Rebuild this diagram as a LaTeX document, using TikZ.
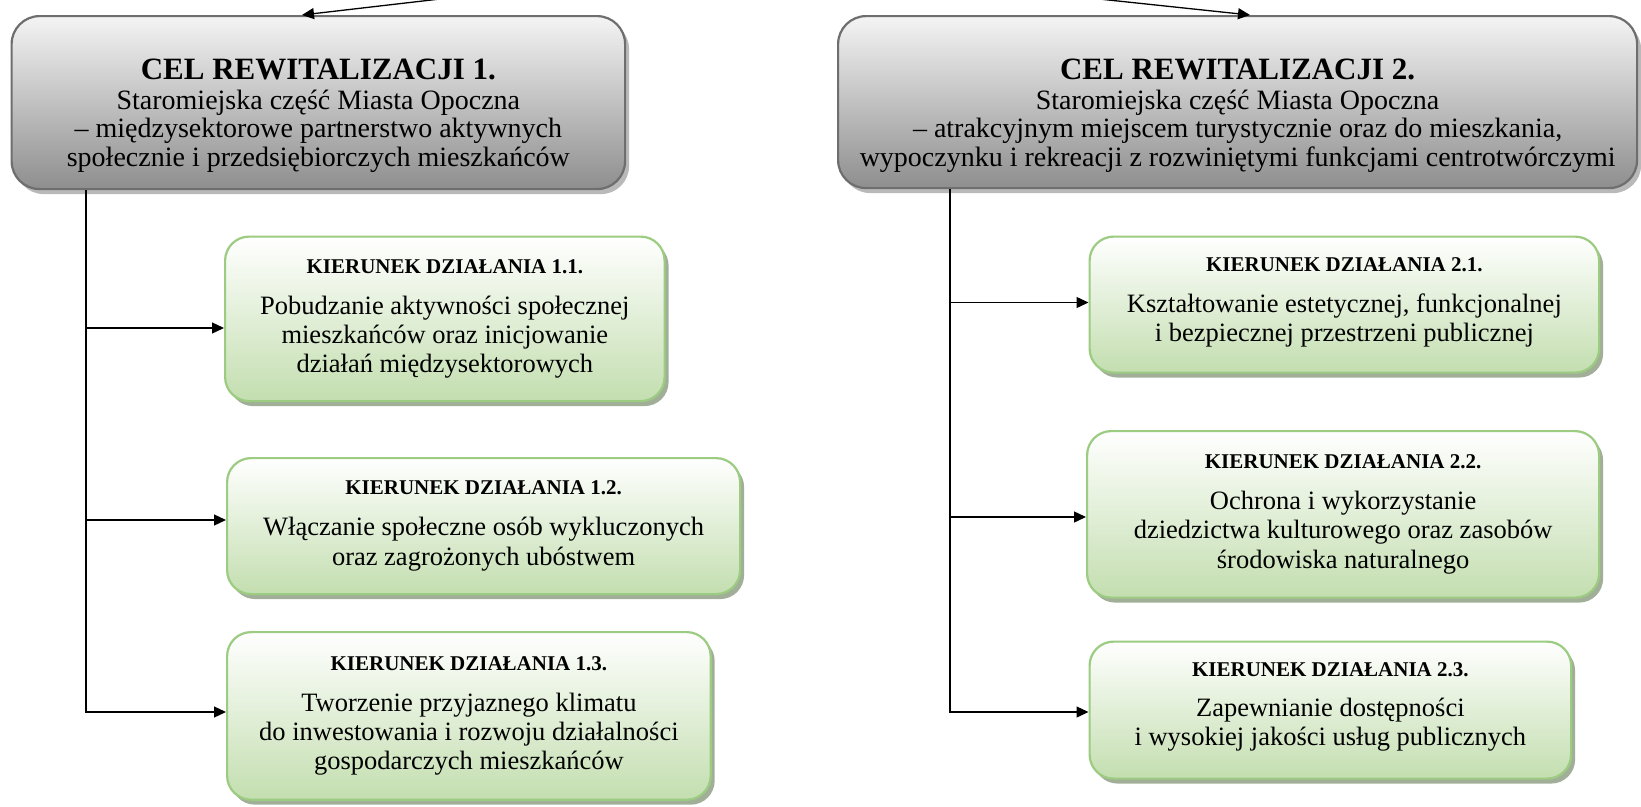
\documentclass[tikz,border=0pt]{standalone}
\usepackage{fontspec}
\setmainfont{Liberation Serif}
\usetikzlibrary{arrows.meta,shadows}
\definecolor{grayedge}{HTML}{6E6E6E}
\definecolor{graytop}{HTML}{F4F4F4}
\definecolor{graybot}{HTML}{8E8E8E}
\definecolor{grayshadow}{HTML}{A8A8A8}
\definecolor{greenedge}{HTML}{9CCB82}
\definecolor{greentop}{HTML}{FFFFFF}
\definecolor{greenbot}{HTML}{C3DEAF}
\definecolor{greenshadow}{HTML}{98A68D}
\newcommand\mlines[1]{\vtop{\halign{\hfil##\hfil\cr#1\crcr}}}
\begin{document}
\begin{tikzpicture}[x=1pt,y=-1pt,
  graybox/.style={draw=grayedge, line width=2.2pt, rounded corners=28pt,
    top color=graytop, bottom color=graybot, inner sep=0pt, anchor=north west,
    drop shadow={shadow xshift=4pt, shadow yshift=-5pt, fill=grayshadow, opacity=0.8}},
  greenbox/.style={draw=greenedge, line width=2.2pt, rounded corners=24pt,
    top color=greentop, bottom color=greenbot, inner sep=0pt, anchor=north west,
    drop shadow={shadow xshift=4pt, shadow yshift=-5pt, fill=greenshadow, opacity=0.9}},
  titletext/.style={font=\fontsize{31}{33}\selectfont\bfseries, inner sep=0pt, anchor=base},
  graybody/.style={font=\fontsize{28}{28.7}\selectfont, inner sep=0pt, anchor=base},
  headtext/.style={font=\fontsize{21}{23}\selectfont\bfseries, inner sep=0pt, anchor=base},
  bodytext/.style={font=\fontsize{26.5}{29.3}\selectfont, inner sep=0pt, anchor=base},
  conn/.style={draw=black, line width=1.3pt},
  arr/.style={conn, -{Triangle[length=12pt,width=11pt]}},
  thickconn/.style={draw=black, line width=2.6pt},
]
\useasboundingbox (0,0) rectangle (1641,806);

% main goal boxes
\node[graybox, minimum width=613.5pt, minimum height=173pt] (c1) at (10.5,15) {};
\node[graybox, minimum width=799pt, minimum height=172pt] (c2) at (837,15) {};

% action boxes
\node[greenbox, minimum width=439.5pt, minimum height=164.5pt] (b11) at (224,235.5) {};
\node[greenbox, minimum width=513pt, minimum height=136pt] (b12) at (226,457) {};
\node[greenbox, minimum width=483.6pt, minimum height=167.6pt] (b13) at (226,631) {};
\node[greenbox, minimum width=509.5pt, minimum height=136pt] (b21) at (1088.5,235.5) {};
\node[greenbox, minimum width=512pt, minimum height=166.5pt] (b22) at (1086,430) {};
\node[greenbox, minimum width=481.5pt, minimum height=137pt] (b23) at (1088.5,640.5) {};

% texts (baselines)
\path (c1.north) ++(0,64) node[titletext] (c1h) {CEL REWITALIZACJI 1.};
\path (c1.north) ++(0,94) node[graybody] (c1t) {\mlines{Staromiejska część Miasta Opoczna\cr
– międzysektorowe partnerstwo aktywnych\cr
społecznie i przedsiębiorczych mieszkańców}};
\path (c2.north) ++(0,64) node[titletext] (c2h) {CEL REWITALIZACJI 2.};
\path (c2.north) ++(0,94) node[graybody] (c2t) {\mlines{Staromiejska część Miasta Opoczna\cr
– atrakcyjnym miejscem turystycznie oraz do mieszkania,\cr
wypoczynku i rekreacji z rozwiniętymi funkcjami centrotwórczymi}};

\path (b11.center) ++(0,-45.8) node[headtext] (b11h) {KIERUNEK DZIAŁANIA 1.1.};
\path (b11.center) ++(0,-4.8) node[bodytext] (b11t) {\mlines{Pobudzanie aktywności społecznej\cr
mieszkańców oraz inicjowanie\cr działań międzysektorowych}};
\path (b12.center) ++(0,-31.2) node[headtext] (b12h) {KIERUNEK DZIAŁANIA 1.2.};
\path (b12.center) ++(0,9.8) node[bodytext] (b12t) {\mlines{Włączanie społeczne osób wykluczonych\cr
oraz zagrożonych ubóstwem}};
\path (b13.center) ++(0,-45.8) node[headtext] (b13h) {KIERUNEK DZIAŁANIA 1.3.};
\path (b13.center) ++(0,-4.8) node[bodytext] (b13t) {\mlines{Tworzenie przyjaznego klimatu\cr
do inwestowania i rozwoju działalności\cr gospodarczych mieszkańców}};

\path (b21.center) ++(0,-33) node[headtext] (b21h) {KIERUNEK DZIAŁANIA 2.1.};
\path (b21.center) ++(0,7.5) node[bodytext] (b21t) {\mlines{Kształtowanie estetycznej, funkcjonalnej\cr
i bezpiecznej przestrzeni publicznej}};
\path (b22.center) ++(0,-45.8) node[headtext] (b22h) {KIERUNEK DZIAŁANIA 2.2.};
\path (b22.center) ++(0,-4.8) node[bodytext] (b22t) {\mlines{Ochrona i wykorzystanie\cr
dziedzictwa kulturowego oraz zasobów\cr środowiska naturalnego}};
\path (b23.center) ++(0,-34) node[headtext] (b23h) {KIERUNEK DZIAŁANIA 2.3.};
\path (b23.center) ++(0,6.5) node[bodytext] (b23t) {\mlines{Zapewnianie dostępności\cr
i wysokiej jakości usług publicznych}};

% top incoming arrows (sources off the picture)
\coordinate (p1) at (440,-1);
\coordinate (p2) at (1099,-1);
\draw[arr] (p1) -- ([xshift=291.5pt]c1.north west);
\draw[arr] (p2) -- ([xshift=413pt]c2.north west);

% left tree
\coordinate (j11) at (86,328);
\coordinate (j12) at (86,520);
\coordinate (j13) at (86,712);
\draw[arr] (c1.south -| j13) |- (b13.west |- j13);
\draw[arr] (j11) -- (b11.west |- j11);
\draw[arr] (j12) -- (b12.west |- j12);

% right tree
\coordinate (j21) at (950,302.5);
\coordinate (j22) at (950,517);
\coordinate (j23) at (950,712);
\draw[thickconn] (c2.south -| j23) -- ([yshift=-0.75pt]j23);
\draw[arr] (j21) -- (b21.west |- j21);
\draw[arr] (j22) -- (b22.west |- j22);
\draw[arr] (j23) -- (b23.west |- j23);
\end{tikzpicture}
\end{document}
